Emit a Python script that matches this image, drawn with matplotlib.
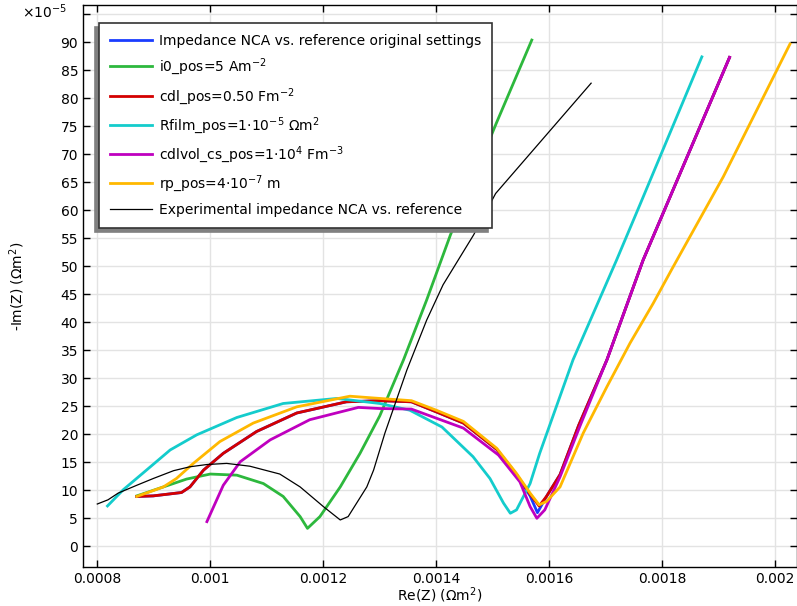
import matplotlib
matplotlib.use('Agg')
import matplotlib.pyplot as plt

# Re(Z) in Ohm m^2, -Im(Z) in units of 1e-5 Ohm m^2
blue_x = [0.00087, 0.000899, 0.000949, 0.000964, 0.000988, 0.001023, 0.001082, 0.001153, 0.001241, 0.0013,
          0.001356, 0.0014, 0.001448, 0.001507, 0.001542, 0.001566, 0.001579, 0.001595, 0.001619, 0.001652,
          0.001702, 0.001766, 0.001919]
blue_y = [8.9, 9.0, 9.6, 10.6, 13.6, 16.6, 20.5, 23.8, 25.8, 26.0,
          25.8, 24.0, 22.0, 17.3, 12.8, 9.0, 6.0, 8.9, 12.8, 21.6,
          33.3, 51.1, 87.3]

green_x = [0.00087, 0.000917, 0.000958, 0.001, 0.001047, 0.001094, 0.001129, 0.001159, 0.001172, 0.001194,
           0.00123, 0.001265, 0.0013, 0.001342, 0.001383, 0.001425, 0.001506, 0.001569]
green_y = [9.0, 10.6, 12.0, 12.9, 12.7, 11.2, 8.9, 5.3, 3.2, 5.3,
           10.6, 16.6, 23.3, 33.3, 44.0, 55.6, 75.5, 90.4]

red_x = [0.00087, 0.000899, 0.000949, 0.000964, 0.000988, 0.001023, 0.001082, 0.001153, 0.001241, 0.0013,
         0.001356, 0.0014, 0.001448, 0.001507, 0.001542, 0.001566, 0.001582, 0.001595, 0.001619, 0.001652,
         0.001702, 0.001766, 0.001919]
red_y = [8.9, 9.0, 9.6, 10.6, 13.6, 16.6, 20.5, 23.8, 25.8, 26.0,
         25.8, 24.0, 22.0, 17.3, 12.8, 9.3, 7.2, 8.9, 12.8, 21.6,
         33.3, 51.1, 87.3]

cyan_x = [0.000818, 0.000846, 0.000887, 0.000929, 0.000976, 0.001047, 0.001129, 0.001224, 0.0013, 0.001353,
          0.00141, 0.001465, 0.001495, 0.001519, 0.001531, 0.001542, 0.001566, 0.001583, 0.001642, 0.001719,
          0.00176, 0.00187]
cyan_y = [7.2, 10.1, 13.6, 17.2, 19.9, 23.0, 25.5, 26.4, 25.5, 24.3,
          21.3, 16.0, 12.1, 7.7, 5.9, 6.5, 11.2, 16.6, 33.3, 51.1,
          60.9, 87.4]

magenta_x = [0.000994, 0.001023, 0.001053, 0.001106, 0.001176, 0.001262, 0.0013, 0.001356, 0.001448, 0.00151,
             0.001548, 0.001566, 0.001578, 0.001592, 0.001619, 0.001654, 0.001702, 0.001766, 0.001919]
magenta_y = [4.4, 10.9, 15.1, 19.0, 22.6, 24.8, 24.6, 24.5, 21.1, 16.3,
             11.5, 7.1, 5.0, 6.5, 12.4, 21.4, 33.3, 51.1, 87.3]

orange_x = [0.00087, 0.000917, 0.00094, 0.00097, 0.001017, 0.001076, 0.001153, 0.001247, 0.0013, 0.001356,
            0.0014, 0.001448, 0.001507, 0.001542, 0.001566, 0.001582, 0.001595, 0.001619, 0.00166, 0.001702,
            0.001743, 0.001784, 0.001817, 0.001908, 0.002026]
orange_y = [8.9, 10.6, 12.1, 14.8, 18.7, 22.0, 24.9, 26.8, 26.4, 26.0,
            24.3, 22.3, 17.5, 13.0, 9.5, 7.4, 8.0, 10.6, 20.2, 28.5,
            36.3, 43.4, 49.5, 66.0, 89.7]

exp_x = [0.0008, 0.000819, 0.000837, 0.00087, 0.000899, 0.000935, 0.000964, 0.000994, 0.001029, 0.00107,
         0.001123, 0.001159, 0.0012, 0.00123, 0.001244, 0.001277, 0.001289, 0.001309, 0.001348, 0.001383,
         0.001412, 0.001466, 0.001505, 0.001674]
exp_y = [7.55, 8.3, 9.5, 10.9, 12.1, 13.5, 14.2, 14.6, 14.8, 14.3,
         12.9, 10.6, 7.1, 4.7, 5.3, 10.6, 13.6, 20.2, 31.5, 40.4,
         46.7, 55.6, 63.0, 82.7]

labels = ['Impedance NCA vs. reference original settings',
          'i0_pos=5 Am$^{-2}$',
          'cdl_pos=0.50 Fm$^{-2}$',
          'Rfilm_pos=1$\\cdot$10$^{-5}$ \u03a9m$^{2}$',
          'cdlvol_cs_pos=1$\\cdot$10$^{4}$ Fm$^{-3}$',
          'rp_pos=4$\\cdot$10$^{-7}$ m',
          'Experimental impedance NCA vs. reference']

xticks = [0.0008, 0.001, 0.0012, 0.0014, 0.0016, 0.0018, 0.002]
xtick_labels = ['0.0008', '0.001', '0.0012', '0.0014', '0.0016', '0.0018', '0.002']
yticks = list(range(0, 100, 5))
ytick_labels = [str(v) for v in range(0, 95, 5)] + ['']

plt.rcParams['font.family'] = 'DejaVu Sans'
plt.rcParams['font.size'] = 10

fig = plt.figure(figsize=(7.97, 6.06), dpi=100)
ax = fig.add_axes([83/797, 39/606, 1 - 83/797, 562/606])

series = [(blue_x, blue_y, '#1a3cff', 2.0),
          (green_x, green_y, '#2db83d', 2.0),
          (red_x, red_y, '#d40000', 2.0),
          (cyan_x, cyan_y, '#14cccc', 2.0),
          (magenta_x, magenta_y, '#bf00bf', 2.0),
          (orange_x, orange_y, '#ffb800', 2.0),
          (exp_x, exp_y, 'black', 0.9)]
for (xs, ys, c, lw), lab in zip(series, labels):
    ax.plot(xs, ys, color=c, lw=lw, label=lab, solid_joinstyle='round')

ax.set_xlim(0.0007747, 0.0020384)
ax.set_ylim(-3.7, 96.66)
ax.set_xticks(xticks)
ax.set_xticklabels(xtick_labels)
ax.set_yticks(yticks)
ax.set_yticklabels(ytick_labels)
ax.grid(True, color='#e3e3e3', lw=1)
ax.set_axisbelow(True)
ax.tick_params(direction='in', length=5, top=True, right=True, width=1)
for s in ax.spines.values():
    s.set_linewidth(1)

ax.set_xlabel('Re(Z) (\u03a9m$^{2}$)', labelpad=0)
ax.set_ylabel('-Im(Z) (\u03a9m$^{2}$)', labelpad=24)
fig.text(22/797, 1 - 12/606, '\u00d710$^{-5}$', ha='left', va='center')

leg = ax.legend(loc='upper left', bbox_to_anchor=(16/714, 1 - 18/562), borderaxespad=0,
                fancybox=False, framealpha=1, edgecolor='#333333',
                shadow={'ox': -3, 'oy': -3, 'facecolor': '#808080', 'edgecolor': '#808080', 'alpha': 1},
                handlelength=3.0, handletextpad=0.5, labelspacing=0.6, borderpad=0.8)
leg.get_frame().set_linewidth(1.2)

fig.savefig('out.png', dpi=100)
